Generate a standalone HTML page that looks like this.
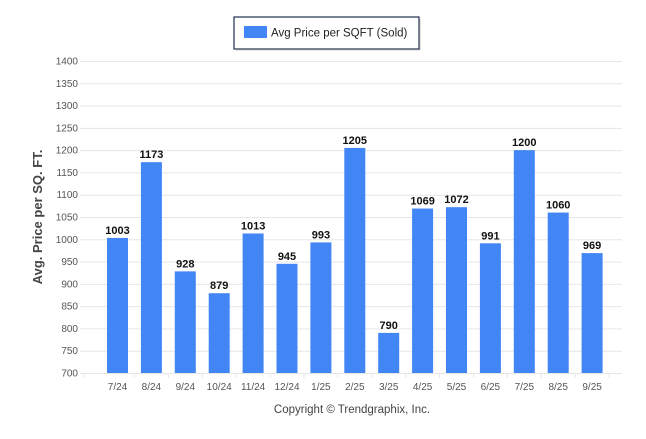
<!DOCTYPE html>
<html><head><meta charset="utf-8"><style>body{margin:0;background:#fff}</style></head><body>
<svg width="646" height="434" xmlns="http://www.w3.org/2000/svg" font-family="Liberation Sans, sans-serif">
<rect x="234" y="17" width="185" height="32" fill="#fff" stroke="#1f2f4f" stroke-width="1.2"/>
<line x1="236" y1="49.8" x2="420" y2="49.8" stroke="#999" stroke-width="1"/>
<line x1="419.8" y1="19" x2="419.8" y2="50" stroke="#999" stroke-width="1"/>
<rect x="244" y="26" width="23" height="12" fill="#4285f4"/>
<text x="271" y="36.5" font-size="11.5" fill="#222">Avg Price per SQFT (Sold)</text>
<g id="grid" stroke="#e6e6e6" stroke-width="1"></g>
<g id="ylab" font-size="10" fill="#555" text-anchor="end"></g>
<g id="bars"></g>
<text transform="translate(42,217) rotate(-90)" font-size="13" font-weight="bold" fill="#444" text-anchor="middle">Avg. Price per SQ. FT.</text>
<text x="352" y="413" font-size="11.5" fill="#444" text-anchor="middle">Copyright © Trendgraphix, Inc.</text>
<script>
var ns="http://www.w3.org/2000/svg";
function el(p,t,a,txt){var e=document.createElementNS(ns,t);for(var k in a)e.setAttribute(k,a[k]);if(txt!=null)e.textContent=txt;p.appendChild(e);return e;}
var g=document.getElementById('grid'),yl=document.getElementById('ylab'),b=document.getElementById('bars');
function Y(v){return 373-(v-700)*312/700;}
for(var v=700;v<=1400;v+=50){var y=Y(v);el(g,'line',{x1:80,x2:622,y1:y+.5,y2:y+.5});el(yl,'text',{x:78,y:y+3.5},v);}
el(g,'line',{x1:83.5,x2:83.5,y1:373,y2:378});
var L=['7/24','8/24','9/24','10/24','11/24','12/24','1/25','2/25','3/25','4/25','5/25','6/25','7/25','8/25','9/25'];
var D=[1003,1173,928,879,1013,945,993,1205,790,1069,1072,991,1200,1060,969];
for(var i=0;i<15;i++){var c=117.5+i*33.9,y=Y(D[i]);
el(b,'rect',{x:c-10.5,y:y,width:21,height:373-y,fill:'#4285f4'});
el(b,'text',{x:c,y:y-4,'font-size':11,'font-weight':'bold','text-anchor':'middle',fill:'#111'},D[i]);
el(b,'line',{x1:c+17,x2:c+17,y1:373,y2:378,stroke:'#e6e6e6'});
el(b,'text',{x:c,y:390,'font-size':10,'text-anchor':'middle',fill:'#555'},L[i]);}
</script>
</svg>
</body></html>
